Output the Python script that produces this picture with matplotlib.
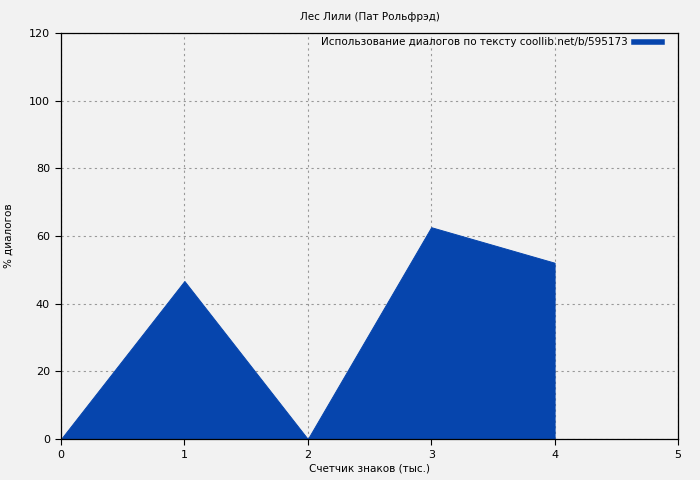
import matplotlib
matplotlib.use("Agg")
import matplotlib.pyplot as plt
from matplotlib.lines import Line2D

x_vals = [0, 1, 2, 3, 4]
y_vals = [0, 46.7, 0, 62.6, 52.1]
x_ticks = [0, 1, 2, 3, 4, 5]
y_ticks = [0, 20, 40, 60, 80, 100, 120]
title = "Лес Лили (Пат Рольфрэд)"
xlabel = "Счетчик знаков (тыс.)"
ylabel = "% диалогов"
legend_label = "Использование диалогов по тексту coollib.net/b/595173"

color = "#0645ad"
bg = "#f2f2f2"

fig = plt.figure(figsize=(7, 4.8), dpi=100, facecolor=bg)
ax = fig.add_axes([61/700, 1-439/480, (678-61)/700, (439-33)/480])
ax.set_facecolor(bg)
ax.set_axisbelow(True)

ax.fill_between(x_vals, y_vals, 0, facecolor=color, edgecolor=color, linewidth=0.7,
                label=legend_label, zorder=2)

ax.set_xlim(0, 5)
ax.set_ylim(0, 120)
ax.set_xticks(x_ticks)
ax.set_yticks(y_ticks)
ax.tick_params(labelsize=8, direction="out", length=4, pad=4)
ax.grid(True, color="#999999", linestyle=(0, (2, 3)), linewidth=0.8, zorder=0)
for s in ax.spines.values():
    s.set_color("black")
    s.set_linewidth(0.9)
    s.set_zorder(3)

ax.set_title(title, fontsize=7.5, pad=9.5)
ax.set_xlabel(xlabel, fontsize=7.5, labelpad=2.5)
ax.set_ylabel(ylabel, fontsize=7.5, labelpad=11)

h = Line2D([0], [0], color=color, linewidth=4)
leg = ax.legend([h], [legend_label], loc="upper right", fontsize=7.5, frameon=False,
                markerfirst=False, handlelength=2.7, handletextpad=0.6,
                bbox_to_anchor=(1 - 12/617, 1 + 0/406), borderaxespad=0.0)

fig.savefig("out.png", dpi=100, facecolor=bg)
